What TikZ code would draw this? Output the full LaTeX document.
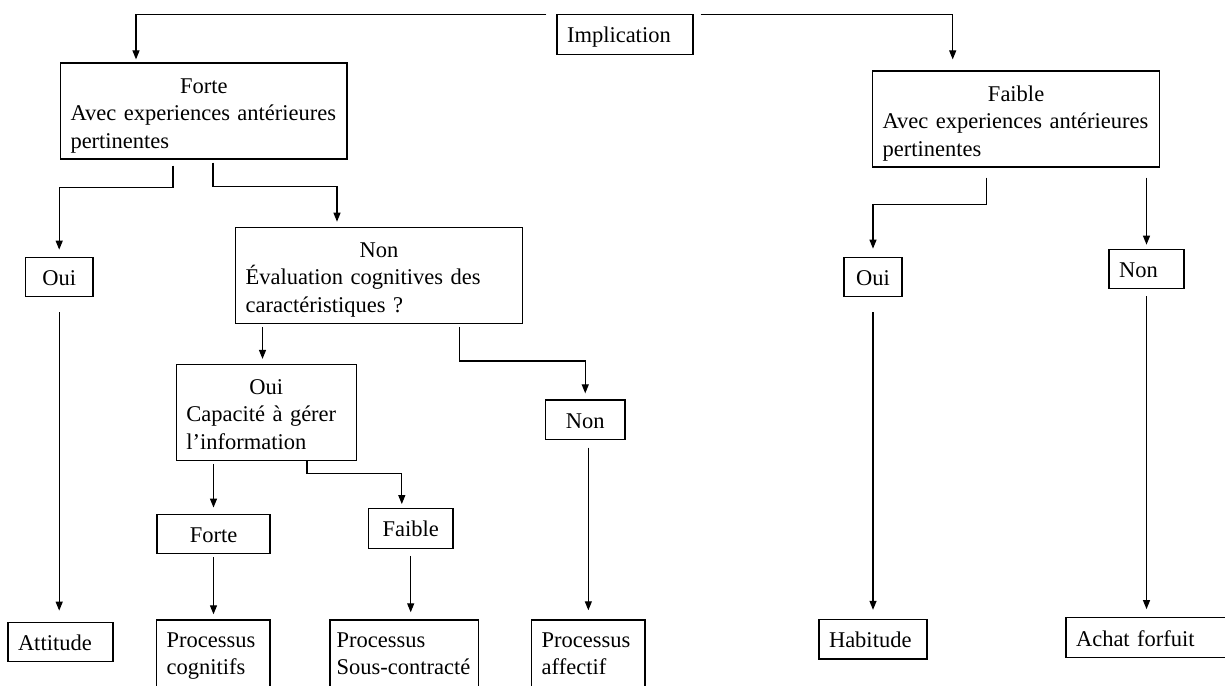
\documentclass[tikz,border=0pt]{standalone}
\usepackage{fontspec}
\setmainfont{Liberation Serif}
\usetikzlibrary{arrows.meta,calc}
\begin{document}
\begin{tikzpicture}[x=1pt,y=-1pt,
  font=\fontsize{22.5}{27.5}\selectfont,
  every node/.style={draw, line width=1.2pt, inner xsep=10pt, inner ysep=0pt},
  one/.style={text width=#1-20pt, text height=17pt, text depth=0pt, minimum height=39.5pt},
  lbox/.style={one=#1, align=left},
  cbox/.style={one=#1, align=center},
  tbox/.style={text width=#1-20pt, align=left, text height=24pt, text depth=60pt, minimum height=96pt},
  bbox/.style={text width=#1-20pt, align=left, anchor=north, text height=24pt, text depth=69.2pt, minimum height=100pt},
  arr/.style={line width=1.2pt, -{Triangle[length=9pt,width=7pt]}}
]
\useasboundingbox (0,0) rectangle (1225,685);
\fill[white] (0,0) rectangle (1225,685);
\clip (0,0) rectangle (1225,685);

% nodes
\node[lbox=136pt] (impl) at (625,34.5) {Implication};
\node[tbox=286.5pt] (forte) at (203.75,111) {\makebox[\linewidth]{Forte}\\Avec experiences antérieures\\pertinentes};
\node[tbox=287pt] (faible) at (1016.1,119) {\makebox[\linewidth]{Faible}\\Avec experiences antérieures\\pertinentes};
\node[cbox=67.6pt] (ouiL) at (59.2,277) {Oui};
\node[tbox=286.6pt] (nonA) at (379,275.3) {\makebox[\linewidth]{Non}\\Évaluation cognitives des\\caractéristiques ?};
\node[cbox=58pt] (ouiR) at (873,277) {Oui};
\node[lbox=75pt] (nonR) at (1146.5,269) {Non};
\node[tbox=180pt] (ouiC) at (266.3,412.2) {\makebox[\linewidth]{Oui}\\Capacité à gérer\\l’information};
\node[cbox=79.5pt] (nonB) at (585.25,419.7) {Non};
\node[cbox=113pt] (forteB) at (213.5,533.9) {Forte};
\node[cbox=84.7pt] (faibleB) at (410.7,528.4) {Faible};
\node[lbox=105pt] (attitude) at (60.5,642) {Attitude};
\node[bbox=113.3pt] (pcog) at (213.35,619.3) {Processus\\cognitifs};
\node[bbox=148.3pt, text width=135pt, inner xsep=6.65pt] (psous) at (404.15,619.3) {Processus\\Sous-contracté};
\node[bbox=113.3pt] (paff) at (588.35,619.3) {Processus\\affectif};
\node[lbox=108pt] (habitude) at (873,639.2) {Habitude};
\node[lbox=170pt] (achat) at (1151,637.5) {Achat forfuit};

% connectors
\draw[arr, shorten <=10pt, shorten >=3pt] (impl.north west) -| ([xshift=-67.75pt]forte.north);
\draw[arr, shorten <=7pt, shorten >=11pt] (impl.north east) -| ([xshift=-63.4pt]faible.north);
\draw[arr, shorten <=6pt, shorten >=7pt] ([xshift=-30.75pt]forte.south) -- ++(0,28) -| (ouiL.north);
\draw[arr, shorten <=3pt, shorten >=5pt] ([xshift=9.25pt]forte.south) -- ++(0,27) -| ([xshift=-42pt]nonA.north);
\draw[arr, shorten <=10pt, shorten >=8pt] ([xshift=-30pt]faible.south) -- ++(0,37) -| (ouiR.north);
\draw[arr, shorten <=10pt, shorten >=4pt] (faible.south -| nonR.north) -- (nonR.north);
\draw[arr, shorten <=15pt, shorten >=11pt] (ouiL.south) -- (ouiL.south |- attitude.north);
\draw[arr, shorten <=3pt, shorten >=6pt] ([xshift=-116.5pt]nonA.south) -- ++(0,41);
\draw[arr, shorten <=3pt, shorten >=6pt] ([xshift=80.8pt]nonA.south) -- ++(0,37) -| (nonB.north);
\draw[arr, shorten <=7.5pt, shorten >=9pt] (paff.north |- nonB.south) -- (paff.north);
\draw[arr, shorten <=3pt, shorten >=6pt] (forteB.north |- ouiC.south) -- (forteB.north);
\draw[arr, shorten >=4pt] ([xshift=40.7pt]ouiC.south) -- ++(0,12.7) -| ([xshift=-8.9pt]faibleB.north);
\draw[arr, shorten <=3pt, shorten >=5pt] (forteB.south) -- (forteB.south |- pcog.north);
\draw[arr, shorten <=7pt, shorten >=7pt] (faibleB.south) -- (faibleB.south |- psous.north);
\draw[arr, shorten <=15pt, shorten >=9pt] (ouiR.south) -- (ouiR.south |- habitude.north);
\draw[arr, shorten <=7pt, shorten >=8pt] (nonR.south) -- (nonR.south |- achat.north);
\end{tikzpicture}
\end{document}
